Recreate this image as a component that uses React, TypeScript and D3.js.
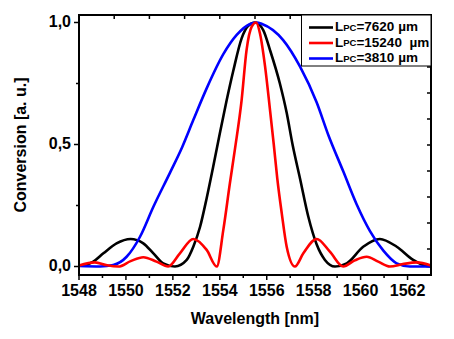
import React from "react";
import * as d3 from "d3";

// wavelength [nm] / conversion [a.u.]
const blackX = [1548.0, 1548.18, 1548.61, 1549.04, 1549.6, 1550.2, 1550.74, 1551.17, 1551.59, 1552.09, 1552.59, 1552.87, 1553.16, 1553.44, 1553.72, 1554.0, 1554.29, 1554.57, 1554.93, 1555.2, 1555.5, 1555.85, 1556.14, 1556.56, 1556.85, 1557.1, 1557.42, 1557.77, 1558.13, 1558.48, 1558.91, 1559.41, 1560.11, 1560.82, 1561.54, 1562.24, 1562.81, 1563.0];
const blackY = [0.003, 0.004, 0.02, 0.054, 0.095, 0.113, 0.095, 0.054, 0.013, 0.0, 0.027, 0.081, 0.163, 0.28, 0.41, 0.545, 0.68, 0.8, 0.935, 0.985, 1.0, 0.969, 0.887, 0.75, 0.63, 0.5, 0.36, 0.205, 0.09, 0.027, 0.0, 0.013, 0.081, 0.113, 0.081, 0.027, 0.002, 0.0];

const redX = [1548.0, 1548.68, 1549.2, 1549.68, 1550.2, 1550.74, 1551.3, 1551.8, 1552.3, 1552.87, 1553.44, 1553.87, 1554.15, 1554.43, 1554.65, 1554.93, 1555.14, 1555.36, 1555.55, 1555.71, 1555.93, 1556.14, 1556.3, 1556.45, 1556.64, 1556.85, 1557.2, 1557.56, 1558.13, 1558.69, 1559.26, 1559.75, 1560.26, 1560.75, 1561.25, 1561.8, 1562.39, 1563.0];
const redY = [0.004, 0.017, 0.005, 0.0, 0.022, 0.038, 0.02, 0.0, 0.054, 0.113, 0.068, 0.0, 0.15, 0.341, 0.484, 0.682, 0.887, 0.983, 1.0, 0.956, 0.819, 0.641, 0.5, 0.36, 0.218, 0.081, 0.0, 0.054, 0.113, 0.061, 0.0, 0.025, 0.04, 0.02, 0.0, 0.01, 0.017, 0.004];

const blueX = [1548.0, 1548.9, 1549.46, 1550.03, 1550.6, 1551.17, 1551.88, 1552.4, 1552.87, 1553.44, 1554.15, 1554.72, 1555.29, 1555.55, 1555.8, 1556.7, 1557.42, 1558.13, 1558.62, 1559.26, 1559.83, 1560.4, 1560.97, 1561.54, 1562.1, 1563.0];
const blueY = [0.002, 0.0, 0.006, 0.04, 0.122, 0.245, 0.385, 0.49, 0.6, 0.73, 0.87, 0.949, 0.994, 1.0, 0.994, 0.928, 0.819, 0.672, 0.54, 0.39, 0.255, 0.145, 0.065, 0.013, 0.0, 0.0];

const series = [
  { name: "7620", gap: " ", color: "#000000", xs: blackX, ys: blackY },
  { name: "15240", gap: "  ", color: "#ff0000", xs: redX, ys: redY },
  { name: "3810", gap: " ", color: "#0000ff", xs: blueX, ys: blueY },
];
const drawOrder = [0, 2, 1];

const xTickValues = [1548, 1550, 1552, 1554, 1556, 1558, 1560, 1562];
const xMinorValues = [1549, 1551, 1553, 1555, 1557, 1559, 1561];
const yTickValues = [0, 0.5, 1.0];
const yMinorValues = [0.25, 0.75];

const W = 454;
const H = 339;
const left = 79;
const right = 431;
const top = 15;
const bottom = 275;

const App = () => {
  const x = d3.scaleLinear().domain([1548, 1563]).range([left, right]);
  const y = d3.scaleLinear().domain([-0.0348, 1.0307]).range([bottom, top]);

  const line = d3
    .line<[number, number]>()
    .x((d) => x(d[0]))
    .y((d) => y(d[1]))
    .curve(d3.curveMonotoneX);

  const fmt = (v: number) => v.toFixed(1).replace(".", ",");
  const font = "Arial, 'Liberation Sans', sans-serif";

  // inward ticks on top and right frame
  const topTicks = d3.range(1, 10).map((i) => left + ((right - left) * i) / 10);
  const rightTicks = d3.range(1, 10).map((i) => top + ((bottom - top) * i) / 10);

  return (
    <svg width={W} height={H} style={{ position: "absolute", left: 0, top: 0 }} fontFamily={font}>
      <rect width={W} height={H} fill="white" />

      {/* Curves */}
      {drawOrder.map((k) => {
        const s = series[k];
        const pts = s.xs.map((v, i) => [v, s.ys[i]] as [number, number]);
        return (
          <path key={k} d={line(pts) || ""} fill="none" stroke={s.color} strokeWidth={2.6} strokeLinejoin="round" />
        );
      })}

      {/* Frame */}
      <rect x={left} y={top} width={right - left} height={bottom - top} fill="none" stroke="black" strokeWidth={2} />

      {topTicks.map((t, i) => (
        <line key={"tt" + i} x1={t} x2={t} y1={top} y2={top + 4} stroke="black" strokeWidth={1.5} />
      ))}
      {rightTicks.map((t, i) => (
        <line key={"rt" + i} x1={right} x2={right - 4} y1={t} y2={t} stroke="black" strokeWidth={1.5} />
      ))}

      {/* X axis */}
      {xTickValues.map((t) => (
        <g key={"x" + t} transform={`translate(${x(t)}, ${bottom})`}>
          <line y2={5} stroke="black" strokeWidth={1.5} />
          <text y={17} textAnchor="middle" dominantBaseline="middle" fontSize={16} fontWeight="bold">
            {t}
          </text>
        </g>
      ))}
      {xMinorValues.map((t) => (
        <line key={"xm" + t} x1={x(t)} x2={x(t)} y1={bottom} y2={bottom + 3} stroke="black" strokeWidth={1.5} />
      ))}

      {/* Y axis */}
      {yTickValues.map((t) => (
        <g key={"y" + t} transform={`translate(${left}, ${y(t)})`}>
          <line x2={-5} stroke="black" strokeWidth={1.5} />
          <text x={-8} textAnchor="end" dominantBaseline="middle" fontSize={16} fontWeight="bold">
            {fmt(t)}
          </text>
        </g>
      ))}
      {yMinorValues.map((t) => (
        <line key={"ym" + t} x1={left} x2={left - 3} y1={y(t)} y2={y(t)} stroke="black" strokeWidth={1.5} />
      ))}

      {/* Axis titles */}
      <text x={(left + right) / 2} y={320} textAnchor="middle" dominantBaseline="middle" fontSize={16} fontWeight="bold">
        Wavelength [nm]
      </text>
      <text
        transform={`translate(22, ${(top + bottom) / 2}) rotate(-90)`}
        textAnchor="middle"
        dominantBaseline="middle"
        fontSize={16}
        fontWeight="bold"
      >
        Conversion [a. u.]
      </text>

      {/* Legend */}
      <rect x={301.5} y={top} width={right - 301.5} height={51} fill="white" stroke="black" strokeWidth={1} />
      {series.map((s, i) => {
        const ly = 27.5 + i * 15.5;
        return (
          <g key={"lg" + i}>
            <line x1={309} x2={333} y1={ly} y2={ly} stroke={s.color} strokeWidth={2.6} />
            <text x={335} y={ly} dominantBaseline="middle" fontSize={13.5} fontWeight="bold" style={{ whiteSpace: "pre" }}>
              L<tspan fontSize={9.5}>PC</tspan>={s.name}
              {s.gap}µm
            </text>
          </g>
        );
      })}
    </svg>
  );
};

export default App;
